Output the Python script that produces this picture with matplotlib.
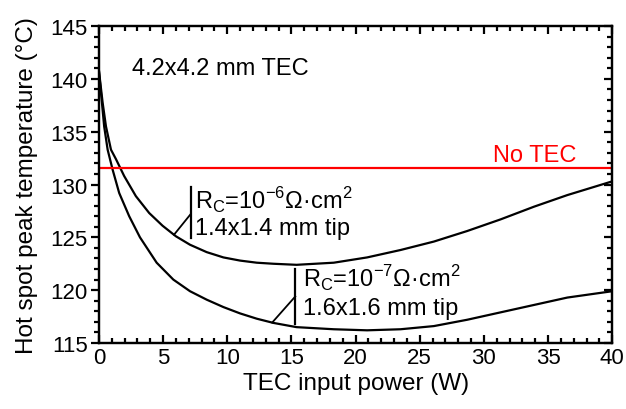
"""TEC hot spot temperature vs input power"""

import matplotlib

matplotlib.use("Agg")
import matplotlib.pyplot as plt
import numpy as np
from matplotlib.ticker import MultipleLocator

plt.rcParams["font.family"] = ["Liberation Sans", "DejaVu Sans"]
plt.rcParams["mathtext.fontset"] = "custom"
plt.rcParams["mathtext.rm"] = "Liberation Sans"

# Rc = 1e-6, 1.4x1.4 mm tip
power_hi = [0, 0.29, 0.55, 0.94, 1.33, 1.97, 2.88, 3.92, 4.96, 6.0, 7.1, 8.4,
            9.7, 11.0, 12.3, 13.6, 15.4, 18.3, 20.9, 23.5, 26.1, 28.7, 31.3,
            33.9, 36.5, 40.0]
temp_hi = [140.8, 137.75, 135.5, 133.3, 132.4, 130.8, 128.9, 127.3, 126.1, 125.1,
           124.3, 123.6, 123.1, 122.8, 122.6, 122.5, 122.4, 122.6, 123.1, 123.8,
           124.6, 125.6, 126.7, 127.9, 129.0, 130.3]

# Rc = 1e-7, 1.6x1.6 mm tip
power_lo = [0, 0.16, 0.41, 0.68, 1.07, 1.58, 2.36, 3.2, 4.5, 5.8, 7.1, 8.4,
            9.7, 11.0, 12.3, 13.6, 15.4, 18.3, 20.9, 23.5, 26.1, 28.7, 31.3,
            33.9, 36.5, 40.0]
temp_lo = [140.8, 138.7, 135.5, 133.3, 131.4, 129.2, 127.0, 125.0, 122.6, 121.0,
           119.9, 119.1, 118.4, 117.8, 117.3, 116.9, 116.5, 116.3, 116.2, 116.3,
           116.6, 117.2, 117.9, 118.6, 119.3, 119.9]

no_tec_temp = 131.6

LW = 1.6
fig = plt.figure(figsize=(6.26, 4.10), dpi=100)
ax = fig.add_axes([0.158, 0.161, 0.820, 0.773])

ax.plot(power_hi, temp_hi, color="black", lw=LW, solid_joinstyle="round")
ax.plot(power_lo, temp_lo, color="black", lw=LW, solid_joinstyle="round")
ax.axhline(no_tec_temp, color="red", lw=LW)

ax.set_xlim(0, 40)
ax.set_ylim(115, 145)
ax.xaxis.set_major_locator(MultipleLocator(5))
ax.xaxis.set_minor_locator(MultipleLocator(1))
ax.yaxis.set_major_locator(MultipleLocator(5))
ax.yaxis.set_minor_locator(MultipleLocator(1))

for s in ax.spines.values():
    s.set_linewidth(LW)

ax.tick_params(axis="x", which="both", direction="in", top=True, pad=3,
               labelsize=16, width=LW)
ax.tick_params(axis="x", which="major", length=6)
ax.tick_params(axis="x", which="minor", length=3.5)
ax.tick_params(axis="y", which="both", direction="out", right=False, pad=2,
               labelsize=16, width=LW)
ax.tick_params(axis="y", which="major", length=6)
ax.tick_params(axis="y", which="minor", length=3.5)

# 右軸は内向き目盛
ax2 = ax.twinx()
ax2.set_ylim(ax.get_ylim())
ax2.yaxis.set_major_locator(MultipleLocator(5))
ax2.yaxis.set_minor_locator(MultipleLocator(1))
ax2.tick_params(axis="y", which="both", direction="in", labelright=False, width=LW)
ax2.tick_params(axis="y", which="major", length=6)
ax2.tick_params(axis="y", which="minor", length=3.5)
for s in ax2.spines.values():
    s.set_linewidth(LW)

ax.set_xlabel("TEC input power (W)", fontsize=17.5, labelpad=3)
ax.set_ylabel("Hot spot peak temperature (°C)", fontsize=17.5, labelpad=9)

FS = 17
ax.text(2.6, 140.5, "4.2x4.2 mm TEC", fontsize=FS, ha="left", va="baseline")
ax.text(37.2, 132.2, "No TEC", fontsize=FS, color="red", ha="right", va="baseline")

# 注釈ラベル
ax.text(7.5, 127.7, r"R$_\mathregular{C}$=10$^\mathregular{-6}$Ω·cm$^\mathregular{2}$",
        fontsize=FS, ha="left", va="baseline")
ax.text(7.5, 125.3, "1.4x1.4 mm tip", fontsize=FS, ha="left", va="baseline")
ax.text(15.9, 120.3, r"R$_\mathregular{C}$=10$^\mathregular{-7}$Ω·cm$^\mathregular{2}$",
        fontsize=FS, ha="left", va="baseline")
ax.text(15.9, 117.75, "1.6x1.6 mm tip", fontsize=FS, ha="left", va="baseline")

# 引き出し線
for px, bar_x, knee_y, y0, y1, xs, ys in [
    (5.85, 7.15, 127.2, 124.95, 129.8, power_hi, temp_hi),
    (13.5, 15.3, 119.4, 116.8, 122.0, power_lo, temp_lo),
]:
    py = np.interp(px, xs, ys)
    ax.plot([px, bar_x], [py, knee_y], color="black", lw=1.3)
    ax.plot([bar_x, bar_x], [y0, y1], color="black", lw=1.6)

fig.savefig("out.png", dpi=100)
plt.close(fig)
